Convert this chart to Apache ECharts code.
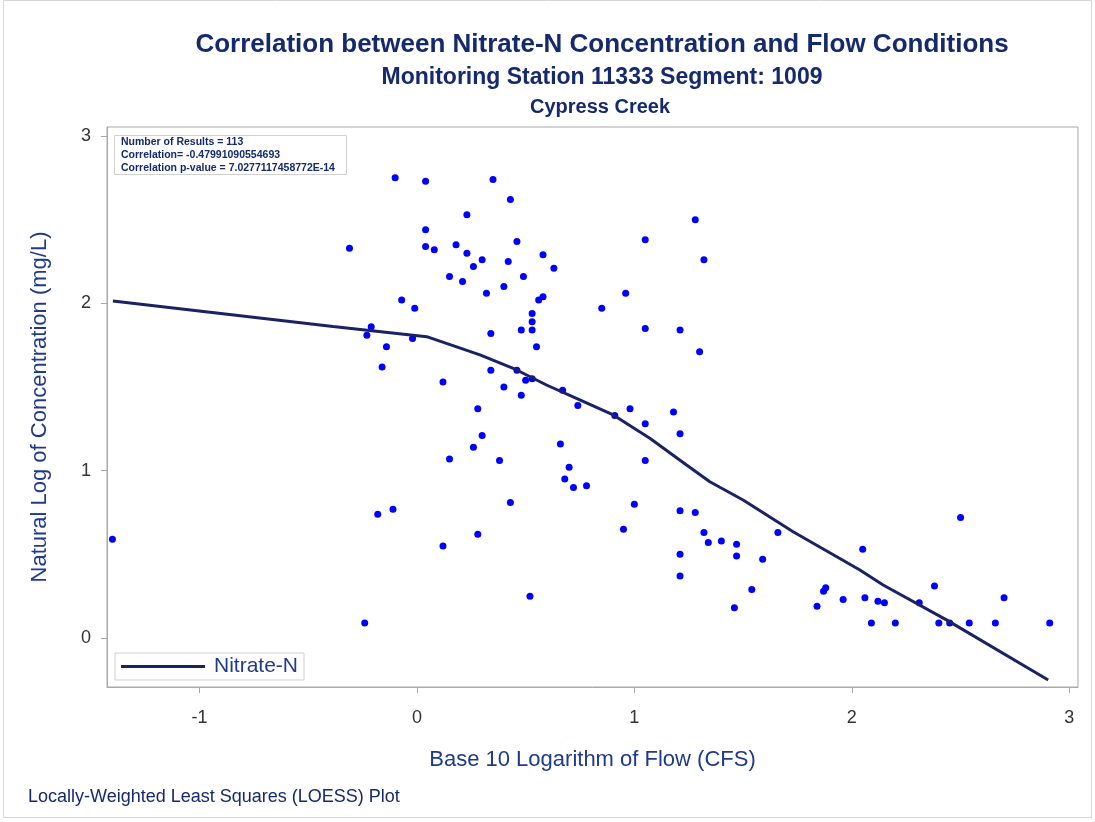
<!DOCTYPE html>
<html>
<head>
<meta charset="utf-8">
<script src="https://cdn.jsdelivr.net/npm/echarts@6/dist/echarts.min.js"></script>
<style>html,body{margin:0;padding:0;background:#fff;}#c{width:1095px;height:822px;}</style>
</head>
<body>
<div id="c"></div>
<script>
const titleText = 'Correlation between Nitrate-N Concentration and Flow Conditions';
const subtitle1 = 'Monitoring Station 11333 Segment: 1009';
const subtitle2 = 'Cypress Creek';
const xAxisTitle = 'Base 10 Logarithm of Flow (CFS)';
const yAxisTitle = 'Natural Log of Concentration (mg/L)';
const footnote = 'Locally-Weighted Least Squares (LOESS) Plot';
const statsLines = ['Number of Results = 113', 'Correlation= -0.47991090554693', 'Correlation p-value = 7.0277117458772E-14'];
const xTicks = [-1, 0, 1, 2, 3];
const yTicks = [0, 1, 2, 3];

const flowLog = [
 -0.31,-0.10,0.04,0.35,0.43,0.23,0.04,0.04,0.08,0.18,
 0.23,0.30,0.26,0.46,0.58,0.63,0.42,0.15,0.21,0.49,
 0.40,0.32,0.58,0.56,-0.07,-0.01,0.53,0.53,0.48,0.53,
 -0.21,-0.23,-0.02,0.34,0.55,-0.14,-0.16,0.12,0.34,0.46,
 0.50,0.53,0.40,0.48,0.67,0.74,0.28,0.30,0.26,0.66,
 0.15,0.38,0.70,0.68,0.72,0.43,-0.18,-0.11,0.12,0.28,
 0.52,-0.24,1.28,1.05,1.32,0.96,0.85,1.05,1.21,1.30,
 0.91,0.98,1.05,1.18,1.21,0.78,1.05,1.00,0.95,1.21,
 1.28,1.32,1.34,1.40,1.47,1.47,1.59,1.66,1.21,1.21,
 1.54,1.46,2.50,2.05,1.88,1.87,1.84,1.96,2.06,2.12,
 2.15,2.09,2.20,2.31,2.38,2.40,2.45,2.54,2.66,2.70,
 2.91,-1.40
];
const concLog = [
 2.33,2.75,2.73,2.74,2.62,2.53,2.44,2.34,2.32,2.35,
 2.30,2.26,2.22,2.37,2.29,2.21,2.25,2.16,2.13,2.16,
 2.10,2.06,2.04,2.02,2.02,1.97,1.94,1.89,1.84,1.84,
 1.86,1.81,1.79,1.82,1.74,1.74,1.62,1.53,1.60,1.60,
 1.54,1.55,1.50,1.45,1.48,1.39,1.37,1.21,1.14,1.16,
 1.07,1.06,1.02,0.95,0.90,0.81,0.74,0.77,0.55,0.62,
 0.25,0.09,2.50,2.38,2.26,2.06,1.97,1.85,1.84,1.71,
 1.33,1.37,1.28,1.35,1.22,0.91,1.06,0.80,0.65,0.76,
 0.75,0.63,0.57,0.58,0.56,0.49,0.47,0.63,0.50,0.37,
 0.29,0.18,0.72,0.53,0.30,0.28,0.19,0.23,0.24,0.22,
 0.21,0.09,0.09,0.21,0.31,0.09,0.09,0.09,0.09,0.24,
 0.09,0.59
];
const loessX = [-1.398,-0.386,0.045,0.290,0.443,0.596,0.749,0.903,1.071,1.240,1.347,1.500,1.730,2.037,2.144,2.435,2.903];
const loessY = [2.014,1.861,1.801,1.692,1.612,1.512,1.423,1.333,1.194,1.034,0.934,0.825,0.635,0.406,0.317,0.108,-0.251];

const navy = '#15296f';
const axisNavy = '#1f3a8a';
const frameGray = '#a9a9a9';
const FONT = '"Liberation Sans", Arial, sans-serif';

const scatterData = flowLog.map((x, i) => [x, concLog[i]]);
const lineData = loessX.map((x, i) => [x, loessY[i]]);

const chart = echarts.init(document.getElementById('c'), null, {renderer: 'canvas'});
chart.setOption({
  animation: false,
  backgroundColor: '#ffffff',
  textStyle: {fontFamily: FONT},
  title: [
    {text: titleText, left: 597, top: 27, textAlign: 'center',
     textStyle: {fontFamily: FONT, fontSize: 26, fontWeight: 'bold', color: navy}},
    {text: subtitle1, left: 597, top: 61, textAlign: 'center',
     textStyle: {fontFamily: FONT, fontSize: 23, fontWeight: 'bold', color: navy}},
    {text: subtitle2, left: 595, top: 92, textAlign: 'center',
     textStyle: {fontFamily: FONT, fontSize: 20, fontWeight: 'bold', color: navy}}
  ],
  grid: {left: 107, right: 17, top: 127, bottom: 135, show: true, borderColor: frameGray, borderWidth: 1, backgroundColor: '#fff'},
  legend: {
    data: [{name: 'Nitrate-N', icon: 'rect'}],
    left: 115, top: 653, orient: 'horizontal',
    itemWidth: 84, itemHeight: 3, itemGap: 10,
    padding: [3, 6, 3, 6],
    borderColor: '#cfcfcf', borderWidth: 1, backgroundColor: '#fff',
    textStyle: {fontFamily: FONT, fontSize: 21, color: axisNavy, padding: [0, 0, 0, 4]}
  },
  xAxis: {
    type: 'value', min: -1.425, max: 3.04,
    name: xAxisTitle, nameLocation: 'middle', nameGap: 62,
    nameTextStyle: {fontFamily: FONT, fontSize: 22, color: axisNavy},
    axisLine: {show: true, onZero: false, lineStyle: {color: frameGray}},
    axisTick: {show: true, customValues: xTicks, length: 6, lineStyle: {color: frameGray}},
    axisLabel: {customValues: xTicks, fontFamily: FONT, fontSize: 18, color: '#333', margin: 22},
    splitLine: {show: false}
  },
  yAxis: {
    type: 'value', min: -0.293, max: 3.054,
    name: yAxisTitle, nameLocation: 'middle', nameGap: 56,
    nameTextStyle: {fontFamily: FONT, fontSize: 22, color: axisNavy},
    axisLine: {show: true, onZero: false, lineStyle: {color: frameGray}},
    axisTick: {show: true, customValues: yTicks, length: 6, lineStyle: {color: frameGray}},
    axisLabel: {customValues: yTicks, fontFamily: FONT, fontSize: 18, color: '#333', margin: 16},
    splitLine: {show: false}
  },
  series: [
    {type: 'scatter', name: 'Observations', data: scatterData, symbol: 'circle', symbolSize: 7,
     itemStyle: {color: '#0000ff', opacity: 1}, z: 2},
    {type: 'line', name: 'Nitrate-N', data: lineData, showSymbol: false, smooth: false,
     lineStyle: {color: '#1a2264', width: 3}, itemStyle: {color: '#1a2264'}, z: 3}
  ],
  graphic: [
    {type: 'rect', shape: {x: 3.5, y: 0.5, width: 1088, height: 817}, style: {fill: 'none', stroke: '#d6d6d6', lineWidth: 1}, silent: true, z: -1},
    {type: 'rect', shape: {x: 114.5, y: 135.5, width: 232, height: 39}, style: {fill: '#fff', stroke: '#d0d0d0', lineWidth: 1}, z: 10},
    {type: 'text', x: 121, y: 142.5, style: {text: statsLines[0], font: 'bold 10.5px ' + FONT, fill: navy, verticalAlign: 'middle'}, z: 11},
    {type: 'text', x: 121, y: 155.5, style: {text: statsLines[1], font: 'bold 10.5px ' + FONT, fill: navy, verticalAlign: 'middle'}, z: 11},
    {type: 'text', x: 121, y: 168.5, style: {text: statsLines[2], font: 'bold 10.5px ' + FONT, fill: navy, verticalAlign: 'middle'}, z: 11},
    {type: 'text', x: 28, y: 797, style: {text: footnote, font: '18px ' + FONT, fill: navy, verticalAlign: 'middle'}, z: 11}
  ]
});
</script>
</body>
</html>
